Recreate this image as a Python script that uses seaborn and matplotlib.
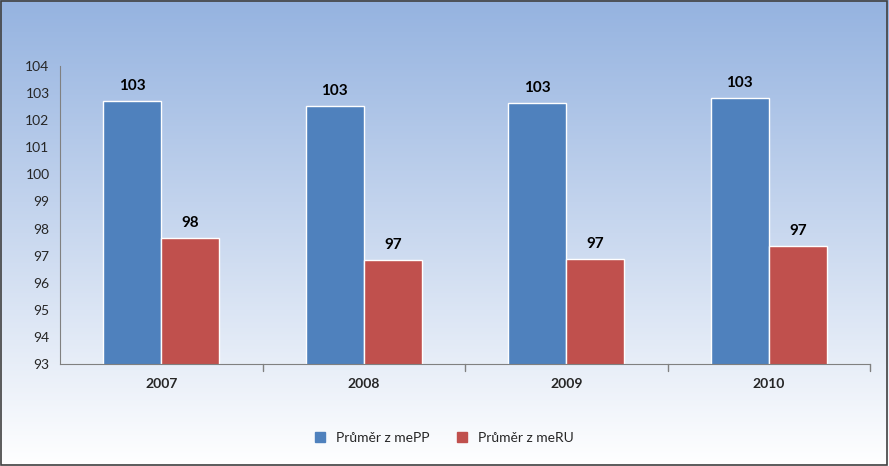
import matplotlib
matplotlib.use("Agg")
import matplotlib.pyplot as plt
import seaborn as sns
import numpy as np
import pandas as pd

years = ["2007", "2008", "2009", "2010"]
mepp = [102.70, 102.52, 102.63, 102.82]
meru = [97.65, 96.84, 96.87, 97.35]
series = ["Průměr z mePP", "Průměr z meRU"]
colors = ["#4F81BD", "#C0504D"]

sns.set_style("white")
plt.rcParams['font.family'] = ['Lato', 'DejaVu Sans']

df = pd.DataFrame({
    "year": years * 2,
    "value": mepp + meru,
    "series": [series[0]] * 4 + [series[1]] * 4,
})

fig = plt.figure(figsize=(8.89, 4.66), dpi=100)
bg = fig.add_axes([0, 0, 1, 1], zorder=-10)
grad = np.linspace(0, 1, 256).reshape(-1, 1)
from matplotlib.colors import LinearSegmentedColormap
cmap = LinearSegmentedColormap.from_list("g", ["#95B3E0", "#C9D8EF", "#FFFFFF"])
bg.imshow(grad, aspect="auto", cmap=cmap, extent=[0, 1, 0, 1], origin="upper")
bg.set_axis_off()
for s in ["left", "right", "top", "bottom"]:
    pass
fig.patches.append(plt.Rectangle((0.001, 0.002), 0.997, 0.995, transform=fig.transFigure,
                                 fill=False, edgecolor="#404040", linewidth=1.2))

ax = fig.add_axes([60 / 889, 1 - 364 / 466, 810 / 889, 298 / 466])
ax.patch.set_alpha(0)
sns.barplot(data=df, x="year", y="value", hue="series", palette=colors,
            width=0.575, gap=0, ax=ax, legend=False, saturation=1)
ax.set_ylim(93, 104)
ax.set_yticks(range(93, 105))
ax.set_xlim(-0.5, 3.5)
ax.set_xlabel("")
ax.set_ylabel("")
for c in ax.containers:
    ax.bar_label(c, labels=[f"{v:.0f}" for v in c.datavalues], padding=6,
                 fontsize=11, fontweight="bold", color="#000000")
ax.tick_params(axis="y", labelsize=10, length=4, color="#808080", direction="out")
ax.tick_params(axis="x", labelsize=10, length=0, pad=10)
for t in ax.get_xticklabels():
    t.set_fontweight("bold")
for x in [0.5, 1.5, 2.5, 3.5]:
    ax.plot([x, x], [93, 92.75], color="#808080", lw=1, clip_on=False)
ax.spines["top"].set_visible(False)
ax.spines["right"].set_visible(False)
ax.spines["left"].set_color("#808080")
ax.spines["bottom"].set_color("#808080")

from matplotlib.patches import Patch
handles = [Patch(color=colors[0], label=series[0]), Patch(color=colors[1], label=series[1])]
fig.legend(handles=handles, loc="center", bbox_to_anchor=(0.5, 1 - 438 / 466), ncol=2,
           frameon=False, fontsize=10, handlelength=0.7, handleheight=0.7, columnspacing=2)

fig.savefig("out.png", dpi=100)
